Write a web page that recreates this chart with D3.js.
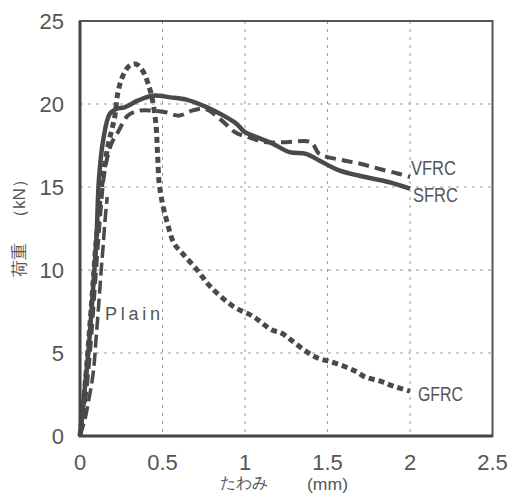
<!DOCTYPE html>
<html lang="ja">
<head>
<meta charset="UTF-8">
<title>荷重-たわみ曲線</title>
<script src="https://cdnjs.cloudflare.com/ajax/libs/d3/7.8.5/d3.min.js"></script>
<style>
    html, body { margin: 0; padding: 0; background: #fff; }
    text { font-family: "Liberation Sans", Arial, sans-serif; fill: #555; }
</style>
</head>
<body>
<div id="chart"></div>
<script>
// 荷重 (kN) vs たわみ (mm)
const xTicks = [0, 0.5, 1, 1.5, 2, 2.5];
const yTicks = [0, 5, 10, 15, 20, 25];
const seriesNames = ["SFRC", "VFRC", "GFRC", "Plain"];

const sfrc = [[0,0],[0.02,2],[0.05,5],[0.08,9],[0.1,12],[0.115,15.5],[0.14,17.8],[0.18,19.4],[0.22,19.7],[0.27,19.8],[0.35,20.2],[0.44,20.5],[0.55,20.4],[0.65,20.25],[0.77,19.8],[0.87,19.3],[0.95,18.8],[1.0,18.3],[1.07,18.0],[1.17,17.6],[1.27,17.1],[1.37,17.0],[1.45,16.6],[1.57,16.0],[1.73,15.6],[1.87,15.3],[2.0,14.9]];
const vfrc = [[0,0],[0.03,2],[0.06,5],[0.09,9],[0.12,13],[0.15,16],[0.19,17.6],[0.23,18.3],[0.29,19.3],[0.36,19.6],[0.44,19.6],[0.52,19.5],[0.6,19.3],[0.68,19.6],[0.76,19.7],[0.86,19.0],[0.94,18.3],[1.02,18.0],[1.13,17.7],[1.25,17.7],[1.4,17.7],[1.45,17.0],[1.6,16.6],[1.7,16.4],[1.81,16.1],[1.93,15.8],[2.0,15.6]];
const gfrc = [[0,0],[0.03,3],[0.07,8],[0.1,12],[0.13,15],[0.17,17.5],[0.21,19.2],[0.23,20.7],[0.26,21.7],[0.3,22.3],[0.34,22.4],[0.38,22.0],[0.42,21.0],[0.44,20.2],[0.46,18.8],[0.47,17],[0.48,15.2],[0.5,14],[0.53,12.8],[0.57,11.6],[0.63,10.9],[0.71,10.0],[0.79,9.0],[0.93,7.8],[1.05,7.2],[1.16,6.4],[1.22,6.2],[1.29,5.7],[1.37,5.1],[1.44,4.7],[1.51,4.5],[1.6,4.2],[1.67,3.9],[1.73,3.55],[1.82,3.3],[1.9,3.0],[2.0,2.7]];
const plain = [[0,0],[0.03,1],[0.05,2],[0.08,3.8],[0.1,6.2],[0.12,8.8],[0.13,10.2],[0.14,11.4],[0.15,12.8],[0.165,14.4]];

const width = 516, height = 494;
const svg = d3.select("#chart").append("svg")
    .attr("width", width)
    .attr("height", height);

const x = d3.scaleLinear().domain([0, 2.5]).range([80, 492.5]);
const y = d3.scaleLinear().domain([0, 25]).range([436, 21]);

// grid
const grid = svg.append("g").attr("stroke", "#999").attr("stroke-width", 1).attr("stroke-dasharray", "3,5");
grid.selectAll(".gx").data(xTicks.slice(1, -1)).join("line")
    .attr("x1", d => x(d)).attr("x2", d => x(d))
    .attr("y1", y(25)).attr("y2", y(0));
grid.selectAll(".gy").data(yTicks.slice(1, -1)).join("line")
    .attr("x1", x(0)).attr("x2", x(2.5))
    .attr("y1", d => y(d)).attr("y2", d => y(d));

// curves
const line = d3.line().x(d => x(d[0])).y(d => y(d[1])).curve(d3.curveCatmullRom.alpha(0.5));
const styles = {
    SFRC: { data: sfrc, dash: null, w: 4.5 },
    VFRC: { data: vfrc, dash: "11,6", w: 4 },
    GFRC: { data: gfrc, dash: "6,4", w: 5 },
    Plain: { data: plain, dash: "13,5", w: 3.5 }
};
svg.append("g").selectAll("path").data(seriesNames).join("path")
    .attr("d", d => line(styles[d].data))
    .attr("fill", "none")
    .attr("stroke", "#4a4a4a")
    .attr("stroke-width", d => styles[d].w)
    .attr("stroke-dasharray", d => styles[d].dash);

// frame
svg.append("rect")
    .attr("x", x(0)).attr("y", y(25))
    .attr("width", x(2.5) - x(0)).attr("height", y(0) - y(25))
    .attr("fill", "none").attr("stroke", "#555").attr("stroke-width", 2);
svg.append("path")
    .attr("d", `M${x(0)},${y(25)}V${y(0)}H${x(2.5)}`)
    .attr("fill", "none").attr("stroke", "#444").attr("stroke-width", 3);

// tick labels
svg.append("g").selectAll("text").data(yTicks).join("text")
    .attr("x", 64).attr("y", d => y(d) + 8)
    .attr("text-anchor", "end")
    .attr("font-size", 22)
    .text(d => d);
svg.append("g").selectAll("text").data(xTicks).join("text")
    .attr("x", d => x(d)).attr("y", 470)
    .attr("text-anchor", "middle")
    .attr("font-size", 22)
    .text(d => d);

// series labels
const labels = [["VFRC", 411, 175], ["SFRC", 413, 202], ["GFRC", 418, 401]];
svg.append("g").selectAll("text").data(labels).join("text")
    .attr("x", d => d[1]).attr("y", d => d[2])
    .attr("font-size", 20)
    .attr("textLength", 45)
    .attr("lengthAdjust", "spacingAndGlyphs")
    .text(d => d[0]);
svg.append("text")
    .attr("x", 105).attr("y", 320)
    .attr("font-size", 18)
    .attr("textLength", 55)
    .text("Plain");

// axis titles
svg.append("text").attr("x", 244).attr("y", 488)
    .attr("text-anchor", "middle")
    .attr("font-family", "Noto Sans CJK JP")
    .attr("font-size", 16)
    .text("たわみ");
svg.append("text").attr("x", 307).attr("y", 490)
    .attr("font-size", 16)
    .attr("textLength", 41)
    .attr("lengthAdjust", "spacingAndGlyphs")
    .text("(mm)");
svg.append("text")
    .attr("transform", "translate(25,224) rotate(-90)")
    .attr("text-anchor", "middle")
    .attr("font-family", "Noto Sans CJK JP")
    .attr("font-size", 17)
    .text("荷重　（kN）");
</script>
</body>
</html>
